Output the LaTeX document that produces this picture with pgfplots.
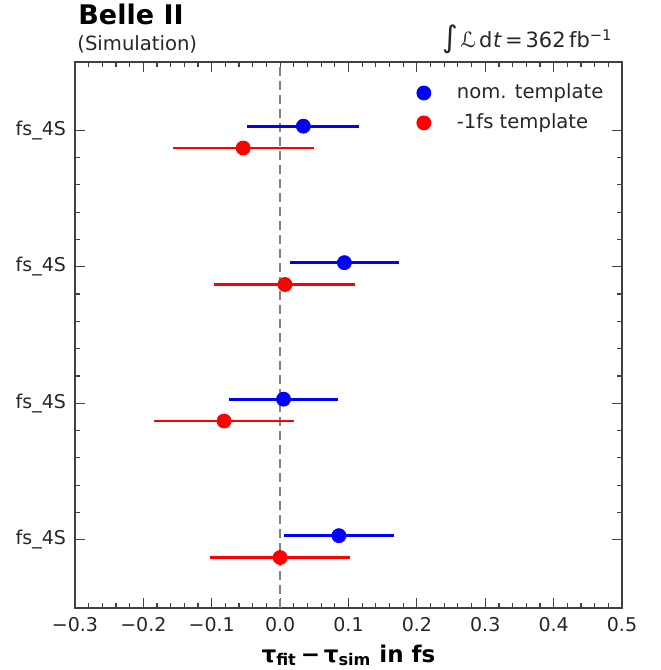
\documentclass[border=0pt]{standalone}
\usepackage{pgfplots}
\pgfplotsset{compat=1.18}
\usepackage{fontspec}
\setmainfont{DejaVu Sans}
\begin{document}
\begin{tikzpicture}
\begin{axis}[
  name=ax,
  scale only axis,
  width=273.5pt, height=273pt,
  xmin=-0.3, xmax=0.5, ymin=-0.5, ymax=3.5,
  xtick={-0.3,-0.2,-0.1,0,0.1,0.2,0.3,0.4,0.5},
  xticklabels={−0.3,−0.2,−0.1,0.0,0.1,0.2,0.3,0.4,0.5},
  ytick={0,1,2,3},
  yticklabels={fs\_4S,fs\_4S,fs\_4S,fs\_4S},
  minor x tick num=4, minor y tick num=4,
  tick align=inside, xtick pos=both, ytick pos=both,
  major tick length=5pt, minor tick length=2.5pt,
  tick style={black!75, line width=0.6pt},
  axis line style={black!75, line width=0.8pt},
  ticklabel style={font=\fontsize{9.5}{11}\selectfont, text=black!85},
  xticklabel style={yshift=-1pt},
  yticklabel style={xshift=-1pt},
  /pgf/number format/assume math mode=true,
  xlabel={\bfseries\fontsize{11.5}{13}\selectfont τ\textsubscript{fit}\,−\,τ\textsubscript{sim} in fs},
  xlabel style={at={(axis description cs:0.5,0)}, anchor=base, yshift=-27pt},
  legend style={draw=none, fill=none, at={(0.985,0.975)}, anchor=north east,
    font=\fontsize{9.8}{12}\selectfont, row sep=2pt, text=black!85},
  legend image code/.code={%
    \path[draw=none, fill=none] (0cm,0cm) -- (0.3cm+14.5pt,0cm);
    \draw[#1] plot coordinates {(0.3cm,0cm)};},
  legend cell align=left,
  clip=false,
]
\addplot[color=black!50, line width=1.3pt, dash pattern=on 4.5pt off 2.5pt, forget plot] coordinates {(0,-0.5) (0,3.5)};
\addplot[only marks, blue, mark=*, mark size=3.5pt,
  error bars/.cd, x dir=both, x explicit, error mark=none,
  error bar style={line width=1.4pt, blue}]
  table[x=x, y=y, x error=ex] {
  x y ex
  0.034 3.03 0.082
  0.094 2.03 0.080
  0.005 1.03 0.080
  0.086 0.03 0.081
};
\addlegendentry{nom. template}
\addplot[only marks, red, mark=*, mark size=3.5pt,
  error bars/.cd, x dir=both, x explicit, error mark=none,
  error bar style={line width=1.4pt, red}]
  table[x=x, y=y, x error=ex] {
  x y ex
  -0.054 2.87 0.103
  0.007 1.87 0.103
  -0.082 0.87 0.103
  0.000 -0.13 0.102
};
\addlegendentry{-1fs template}
\node[anchor=base west, font=\bfseries\fontsize{13.5}{15}\selectfont, inner sep=0pt] at ([yshift=18.5pt, xshift=1.5pt]axis description cs:0,1) {Belle II};
\node[anchor=base west, font=\fontsize{9.8}{11}\selectfont, text=black!85, inner sep=0pt] at ([yshift=6pt, xshift=1pt]axis description cs:0,1) {(Simulation)};
\node[anchor=base east, font=\fontsize{10.5}{14}\selectfont, text=black!85, inner sep=0pt] at ([yshift=7pt, xshift=-4.5pt]axis description cs:1,1) {{\fontsize{15}{15}\selectfont ∫}\kern1pt\textit{ℒ}\,d\kern0.3pt\textit{t}\kern1.5pt=\kern1.5pt362\,fb\textsuperscript{−1}};
\end{axis}
\pgfresetboundingbox
\useasboundingbox ([xshift=-37.5pt,yshift=-31pt]ax.south west) rectangle ([xshift=19.5pt,yshift=31pt]ax.north east);
\end{tikzpicture}
\end{document}
